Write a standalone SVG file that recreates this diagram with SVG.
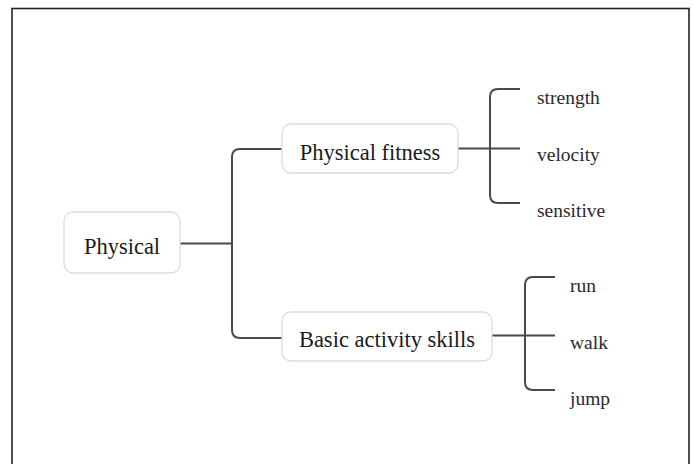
<svg xmlns="http://www.w3.org/2000/svg" width="694" height="464" viewBox="0 0 694 464">
<style>
.node rect{fill:#fff;stroke:#dcdcdc;stroke-width:1.3}
.t{font-family:"Liberation Serif","Times New Roman",serif;fill:#1a1a1a}
.big{font-size:22.5px;text-anchor:middle}
.leaf{font-size:19.5px;fill:#2a2a2a}
.conn path{fill:none;stroke:#4a4a4a;stroke-width:2}
</style>
<rect x="0" y="0" width="694" height="464" fill="#fff"/>
<rect x="12" y="8.5" width="677" height="470" fill="none" stroke="#222" stroke-width="1.6"/>
<g class="conn">
<path d="M180 243.5H232"/>
<path d="M282 149H240Q232 149 232 157V330Q232 338 240 338H282"/>
<path d="M458 148.5H520"/>
<path d="M520 89H498Q490 89 490 97V195Q490 203 498 203H520"/>
<path d="M492 335.5H555"/>
<path d="M555 277H533Q525 277 525 285V382Q525 390 533 390H555"/>
</g>
<g id="root" class="node"><rect x="64" y="212" width="116" height="61" rx="9"/><text class="t big" x="122" y="254">Physical</text></g>
<g id="fitness" class="node"><rect x="282" y="124" width="176" height="49" rx="9"/><text class="t big" x="370" y="160">Physical fitness</text></g>
<g id="basic" class="node"><rect x="282" y="312" width="210" height="49" rx="9"/><text class="t big" x="387" y="347">Basic activity skills</text></g>
<g id="strength"><text class="t leaf" x="537" y="104">strength</text></g>
<g id="velocity"><text class="t leaf" x="537" y="161">velocity</text></g>
<g id="sensitive"><text class="t leaf" x="537" y="217">sensitive</text></g>
<g id="run"><text class="t leaf" x="570" y="292">run</text></g>
<g id="walk"><text class="t leaf" x="570" y="349">walk</text></g>
<g id="jump"><text class="t leaf" x="570" y="405">jump</text></g>
</svg>
